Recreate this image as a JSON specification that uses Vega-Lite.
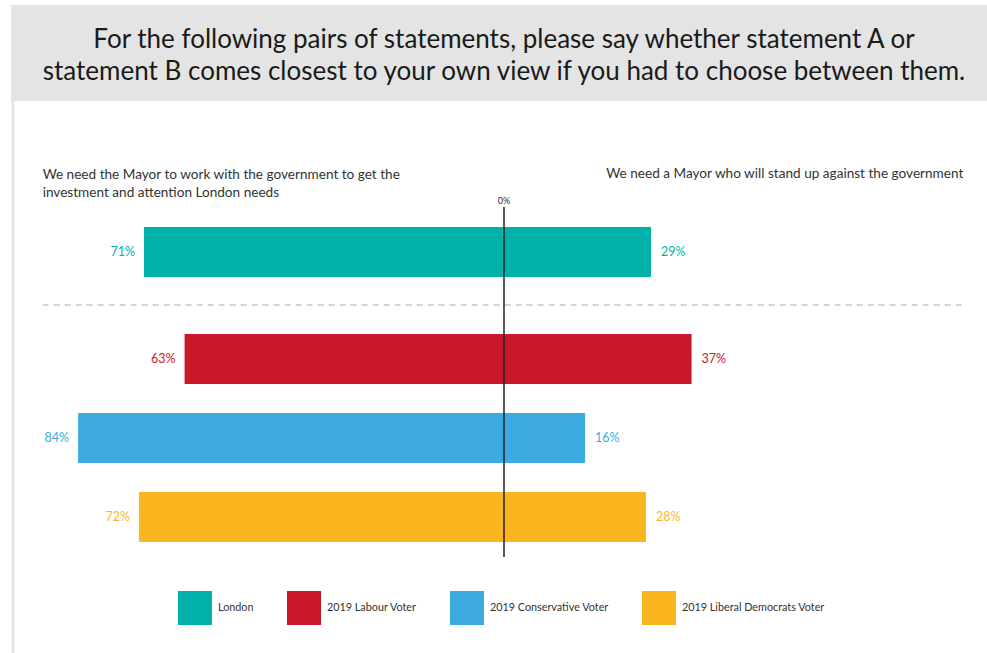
{
  "$schema": "https://vega.github.io/schema/vega-lite/v6.json",
  "padding": {"left": 11, "top": 5, "right": 0, "bottom": 0},
  "spacing": 0,
  "bounds": "flush",
  "background": "#ffffff",
  "config": {"view": {"stroke": null}, "font": "Lato"},
  "datasets": {
    "bars": [
      {"group": "London", "statement": "A", "share": -71},
      {"group": "London", "statement": "B", "share": 29},
      {"group": "2019 Labour Voter", "statement": "A", "share": -63},
      {"group": "2019 Labour Voter", "statement": "B", "share": 37},
      {"group": "2019 Conservative Voter", "statement": "A", "share": -84},
      {"group": "2019 Conservative Voter", "statement": "B", "share": 16},
      {"group": "2019 Liberal Democrats Voter", "statement": "A", "share": -72},
      {"group": "2019 Liberal Democrats Voter", "statement": "B", "share": 28}
    ],
    "question": [
      {"text": "For the following pairs of statements, please say whether statement A or\nstatement B comes closest to your own view if you had to choose between them."}
    ],
    "statements": [
      {"side": "A", "text": "We need the Mayor to work with the government to get the\ninvestment and attention London needs"},
      {"side": "B", "text": "We need a Mayor who will stand up against the government"}
    ],
    "one": [{}]
  },
  "resolve": {"scale": {"x": "independent", "y": "independent", "color": "shared"}},
  "vconcat": [
    {
      "width": 976,
      "height": 96,
      "view": {"fill": "#e4e4e4", "stroke": null},
      "data": {"name": "question"},
      "mark": {"type": "text", "fontSize": 26, "lineBreak": "\n", "lineHeight": 32, "color": "#1a1a1a", "align": "center", "baseline": "middle", "dy": -13},
      "encoding": {
        "x": {"datum": 0, "type": "quantitative", "scale": {"domain": [-97.24, 95.27], "nice": false}, "axis": null},
        "text": {"field": "text"}
      }
    },
    {
      "width": 976,
      "height": 106,
      "layer": [
        {
          "data": {"name": "statements"},
          "transform": [{"filter": "datum.side === 'A'"}],
          "mark": {"type": "text", "fontSize": 13.6, "lineBreak": "\n", "lineHeight": 18, "color": "#333333", "align": "left", "baseline": "alphabetic", "dy": 25},
          "encoding": {
            "x": {"datum": -91, "type": "quantitative", "scale": {"domain": [-97.24, 95.27], "nice": false}, "axis": null},
            "text": {"field": "text"}
          }
        },
        {
          "data": {"name": "statements"},
          "transform": [{"filter": "datum.side === 'B'"}],
          "mark": {"type": "text", "fontSize": 13.6, "color": "#333333", "align": "right", "baseline": "alphabetic", "dy": 24},
          "encoding": {
            "x": {"datum": 90.6, "type": "quantitative"},
            "text": {"field": "text"}
          }
        },
        {
          "data": {"name": "one"},
          "mark": {"type": "text", "fontSize": 9, "color": "#333333", "align": "center", "baseline": "alphabetic", "dy": 50},
          "encoding": {
            "x": {"datum": 0, "type": "quantitative"},
            "text": {"value": "0%"}
          }
        },
        {
          "data": {"name": "one"},
          "mark": {"type": "rule", "color": "#e6e6e6", "strokeWidth": 3},
          "encoding": {"x": {"datum": -96.84, "type": "quantitative"}}
        }
      ]
    },
    {
      "width": 976,
      "height": 90,
      "layer": [
        {
          "data": {"name": "bars"},
          "transform": [{"filter": "datum.group === 'London'"}],
          "mark": {"type": "bar"},
          "encoding": {
            "x": {"field": "share", "type": "quantitative", "scale": {"domain": [-97.24, 95.27], "nice": false}, "axis": null},
            "y": {"field": "group", "type": "nominal", "scale": {"paddingInner": 0, "paddingOuter": 0.4}, "axis": null},
            "x2": {"datum": 0},
            "color": {
              "field": "group", "type": "nominal",
              "scale": {"domain": ["London", "2019 Labour Voter", "2019 Conservative Voter", "2019 Liberal Democrats Voter"], "range": ["#00b2a9", "#c8182a", "#3caae1", "#fbb51f"]},
              "legend": {"title": null, "orient": "none", "legendX": 167, "legendY": 586, "direction": "horizontal", "symbolType": "square", "symbolSize": 1156, "symbolStrokeWidth": 0, "labelFontSize": 10.8, "labelColor": "#333333", "labelFont": "Lato", "labelOffset": 6, "columnPadding": 33}
            }
          }
        },
        {
          "data": {"name": "bars"},
          "transform": [{"filter": "datum.group === 'London' && datum.statement === 'A'"}, {"calculate": "abs(datum.share) + '%'", "as": "label"}],
          "mark": {"type": "text", "align": "right", "dx": -9, "fontSize": 12.5},
          "encoding": {"x": {"field": "share", "type": "quantitative"}, "y": {"field": "group", "type": "nominal"}, "text": {"field": "label"}, "color": {"field": "group", "type": "nominal", "legend": null}}
        },
        {
          "data": {"name": "bars"},
          "transform": [{"filter": "datum.group === 'London' && datum.statement === 'B'"}, {"calculate": "abs(datum.share) + '%'", "as": "label"}],
          "mark": {"type": "text", "align": "left", "dx": 10, "fontSize": 12.5},
          "encoding": {"x": {"field": "share", "type": "quantitative"}, "y": {"field": "group", "type": "nominal"}, "text": {"field": "label"}, "color": {"field": "group", "type": "nominal", "legend": null}}
        },
        {
          "data": {"name": "one"},
          "mark": {"type": "rule", "color": "#222222", "strokeWidth": 1.5},
          "encoding": {"x": {"datum": 0, "type": "quantitative"}, "y": {"value": 0}, "y2": {"value": "height"}}
        },
        {
          "data": {"name": "one"},
          "mark": {"type": "rule", "color": "#e6e6e6", "strokeWidth": 3},
          "encoding": {"x": {"datum": -96.84, "type": "quantitative"}, "y": {"value": 0}, "y2": {"value": "height"}}
        }
      ]
    },
    {
      "width": 976,
      "height": 16,
      "data": {"name": "one"},
      "layer": [
        {
          "mark": {"type": "rule", "color": "#d4d4d4", "strokeWidth": 2, "strokeDash": [6, 5]},
          "encoding": {
            "x": {"datum": -91, "type": "quantitative", "scale": {"domain": [-97.24, 95.27], "nice": false}, "axis": null},
            "x2": {"datum": 91}
          }
        },
        {
          "mark": {"type": "rule", "color": "#222222", "strokeWidth": 1.5},
          "encoding": {"x": {"datum": 0, "type": "quantitative"}}
        },
        {
          "mark": {"type": "rule", "color": "#e6e6e6", "strokeWidth": 3},
          "encoding": {"x": {"datum": -96.84, "type": "quantitative"}}
        }
      ]
    },
    {
      "width": 976,
      "height": 244,
      "layer": [
        {
          "data": {"name": "bars"},
          "transform": [{"filter": "datum.group !== 'London'"}],
          "mark": {"type": "bar"},
          "encoding": {
            "x": {"field": "share", "type": "quantitative", "scale": {"domain": [-97.24, 95.27], "nice": false}, "axis": null},
            "y": {"field": "group", "type": "nominal", "sort": ["2019 Labour Voter", "2019 Conservative Voter", "2019 Liberal Democrats Voter"], "scale": {"paddingInner": 0.367, "paddingOuter": 0.228, "align": 0.583}, "axis": null},
            "x2": {"datum": 0},
            "color": {"field": "group", "type": "nominal"}
          }
        },
        {
          "data": {"name": "bars"},
          "transform": [{"filter": "datum.group !== 'London' && datum.statement === 'A'"}, {"calculate": "abs(datum.share) + '%'", "as": "label"}],
          "mark": {"type": "text", "align": "right", "dx": -9, "fontSize": 12.5},
          "encoding": {"x": {"field": "share", "type": "quantitative"}, "y": {"field": "group", "type": "nominal", "sort": ["2019 Labour Voter", "2019 Conservative Voter", "2019 Liberal Democrats Voter"]}, "text": {"field": "label"}, "color": {"field": "group", "type": "nominal", "legend": null}}
        },
        {
          "data": {"name": "bars"},
          "transform": [{"filter": "datum.group !== 'London' && datum.statement === 'B'"}, {"calculate": "abs(datum.share) + '%'", "as": "label"}],
          "mark": {"type": "text", "align": "left", "dx": 10, "fontSize": 12.5},
          "encoding": {"x": {"field": "share", "type": "quantitative"}, "y": {"field": "group", "type": "nominal", "sort": ["2019 Labour Voter", "2019 Conservative Voter", "2019 Liberal Democrats Voter"]}, "text": {"field": "label"}, "color": {"field": "group", "type": "nominal", "legend": null}}
        },
        {
          "data": {"name": "one"},
          "mark": {"type": "rule", "color": "#222222", "strokeWidth": 1.5},
          "encoding": {"x": {"datum": 0, "type": "quantitative"}, "y": {"value": 0}, "y2": {"value": "height"}}
        },
        {
          "data": {"name": "one"},
          "mark": {"type": "rule", "color": "#e6e6e6", "strokeWidth": 3},
          "encoding": {"x": {"datum": -96.84, "type": "quantitative"}, "y": {"value": 0}, "y2": {"value": "height"}}
        }
      ]
    },
    {
      "width": 976,
      "height": 96,
      "data": {"name": "one"},
      "mark": {"type": "rule", "color": "#e6e6e6", "strokeWidth": 3},
      "encoding": {"x": {"datum": -96.84, "type": "quantitative", "scale": {"domain": [-97.24, 95.27], "nice": false}, "axis": null}}
    }
  ]
}
